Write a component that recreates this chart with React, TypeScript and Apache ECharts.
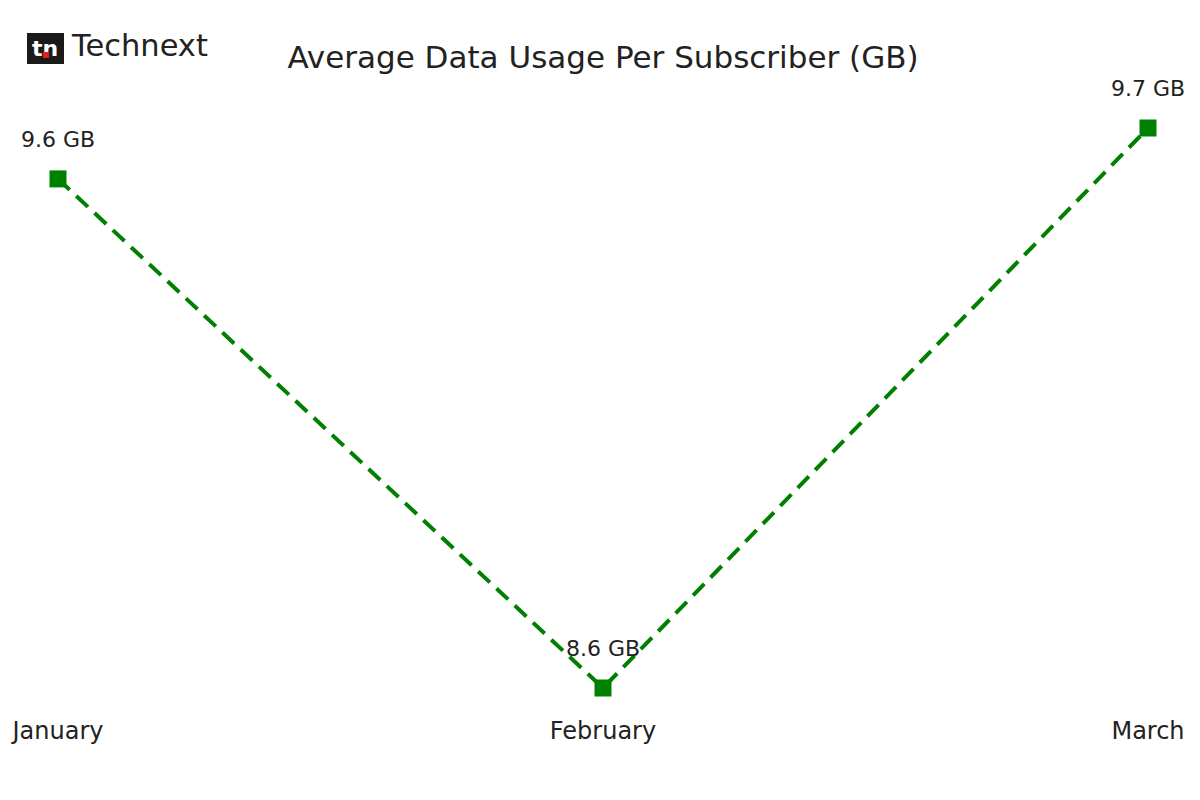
import React, { useEffect, useRef } from "react";
import * as echarts from "echarts";

const months = ["January", "February", "March"];
const usage = [9.6, 8.6, 9.7];
const chartTitle = "Average Data Usage Per Subscriber (GB)";
const brand = "Technext";

const FONT = "'DejaVu Sans', Roboto, sans-serif";

const App: React.FC = () => {
  const chartRef = useRef<HTMLDivElement>(null);

  useEffect(() => {
    if (!chartRef.current) return undefined;
    const chart = echarts.init(chartRef.current, undefined, { renderer: "svg" });

    const options: echarts.EChartsOption = {
      animation: false,
      backgroundColor: "#ffffff",
      textStyle: { fontFamily: FONT },
      title: {
        text: chartTitle,
        left: 598,
        top: 36,
        textAlign: "center",
        textStyle: { fontSize: 31, fontWeight: "normal", color: "#222222", fontFamily: FONT },
      },
      graphic: [
        {
          type: "group",
          left: 27,
          top: 33,
          children: [
            { type: "rect", shape: { x: 0, y: 0, width: 37, height: 31 }, style: { fill: "#1a1a1a" } },
            {
              type: "text",
              x: 18,
              y: 15,
              style: {
                text: "tn",
                fill: "#ffffff",
                font: "bold 22px " + FONT,
                align: "center",
                verticalAlign: "middle",
              },
            },
            { type: "rect", shape: { x: 16, y: 19, width: 6, height: 6 }, style: { fill: "#e0201b" } },
          ],
        },
        {
          type: "text",
          left: 72,
          top: 30,
          style: { text: brand, fill: "#222222", font: "30.5px " + FONT },
        },
      ],
      grid: { left: 58, right: 52, top: 128, bottom: 112, containLabel: false },
      xAxis: {
        type: "category",
        data: months,
        boundaryGap: false,
        axisLine: { show: false },
        axisTick: { show: false },
        splitLine: { show: false },
        axisLabel: { fontSize: 24, color: "#222222", margin: 31, fontFamily: FONT },
      },
      yAxis: {
        type: "value",
        min: 8.6,
        max: 9.7,
        show: false,
        splitLine: { show: false },
      },
      series: [
        {
          type: "line",
          data: usage,
          symbol: "rect",
          symbolSize: 17,
          itemStyle: { color: "#008000" },
          lineStyle: { color: "#008000", width: 4, type: [16, 9] },
          label: {
            show: true,
            position: "top",
            distance: 20,
            fontSize: 22,
            color: "#222222",
            fontFamily: FONT,
            formatter: (p: any) => `${p.value} GB`,
          },
          z: 3,
        },
      ],
    };
    chart.setOption(options);

    return () => {
      chart.dispose();
    };
  }, []);

  return <div ref={chartRef} style={{ width: "1200px", height: "800px", margin: "-8px" }} />;
};

export default App;
